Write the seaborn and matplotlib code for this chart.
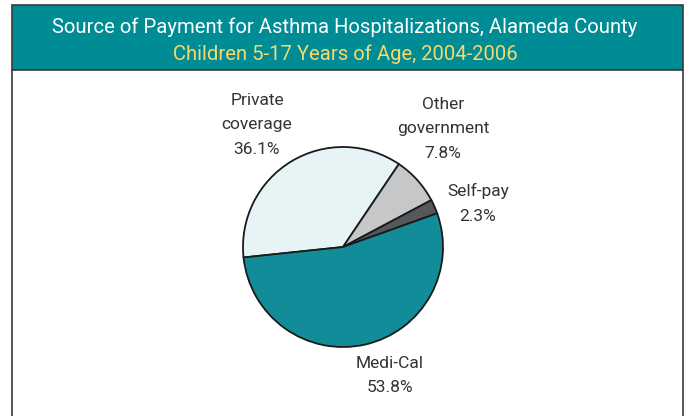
import matplotlib
matplotlib.use("Agg")
import matplotlib.pyplot as plt
import seaborn as sns
from matplotlib.patches import Rectangle
from matplotlib.lines import Line2D

# Data
categories = ["Private\ncoverage", "Other\ngovernment", "Self-pay", "Medi-Cal"]
shares = [36.1, 7.8, 2.3, 53.8]
colors = ["#E6F4F5", "#C6C7C8", "#555759", "#138C99"]

title_main = "Source of Payment for Asthma Hospitalizations, Alameda County"
title_sub = "Children 5-17 Years of Age, 2004-2006"

sns.set_theme(style="white")
plt.rcParams["font.family"] = ["Roboto", "DejaVu Sans"]

W, H = 690, 416
fig = plt.figure(figsize=(W / 100, H / 100), dpi=100)
fig.patch.set_facecolor("white")

def fx(px):
    return px / W

def fy(py):
    return 1 - py / H

# header band
fig.patches.append(Rectangle((fx(12), fy(70)), fx(683) - fx(12), fy(5) - fy(70),
                             transform=fig.transFigure, facecolor="#008C94",
                             edgecolor="#3a3a3a", linewidth=1.2, zorder=0))
# panel side borders
for x in (12, 683):
    fig.lines.append(Line2D([fx(x), fx(x)], [fy(70), 0], transform=fig.transFigure,
                            color="#3a3a3a", linewidth=1.2))

fig.text(0.5, fy(27), title_main, ha="center", va="center", color="white", fontsize=14.6)
fig.text(0.5, fy(54), title_sub, ha="center", va="center", color="#F6D96B", fontsize=14.6)

# pie axes: center (343, 247), radius 100 px
ax = fig.add_axes([fx(243), fy(347), fx(200), 200 / H])
wedges, _ = ax.pie(shares, colors=colors, startangle=186, counterclock=False,
                   wedgeprops=dict(edgecolor="#1a1a1a", linewidth=1.3))
ax.set_xlim(-1, 1)
ax.set_ylim(-1, 1)
ax.set_aspect("equal")
ax.axis("off")

label_pos = [(-0.86, 1.22), (1.00, 1.18), (1.35, 0.435), (0.47, -1.285)]
for name, val, (lx, ly) in zip(categories, shares, label_pos):
    ax.text(lx, ly, f"{name}\n{val:.1f}%", ha="center", va="center",
            fontsize=12.5, color="#333333", linespacing=1.78, clip_on=False)

fig.savefig("out.png", dpi=100)
